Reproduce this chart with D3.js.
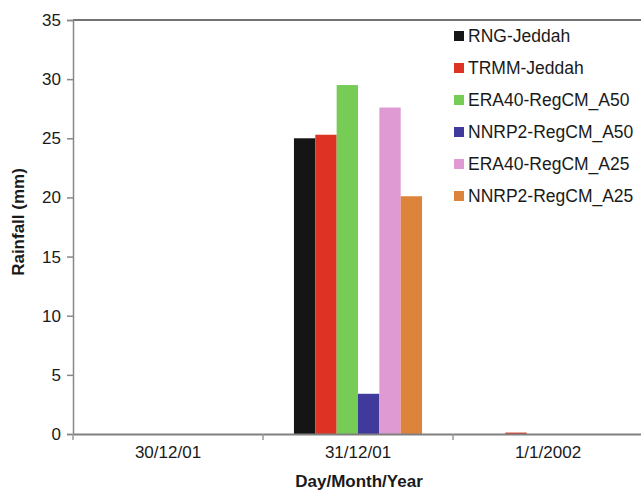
<!DOCTYPE html>
<html><head><meta charset="utf-8">
<script src="https://cdn.jsdelivr.net/npm/d3@7"></script>
<style>body{margin:0;background:#fff;} text{font-family:"Liberation Sans",Arial,sans-serif;fill:#1a1a1a;}</style>
</head><body>
<svg id="c" width="641" height="490"></svg>
<script>
const categories = ["30/12/01", "31/12/01", "1/1/2002"];
const seriesNames = ["RNG-Jeddah", "TRMM-Jeddah", "ERA40-RegCM_A50", "NNRP2-RegCM_A50", "ERA40-RegCM_A25", "NNRP2-RegCM_A25"];
const seriesColors = ["#151515", "#dd3224", "#77cc55", "#3f3a9c", "#df9ad4", "#dc843c"];
const rng     = [0, 25.0, 0];
const trmm    = [0, 25.3, 0.12];
const eraA50  = [0, 29.5, 0];
const nnrpA50 = [0, 3.4, 0];
const eraA25  = [0, 27.6, 0];
const nnrpA25 = [0, 20.1, 0];
const yTicks = [0, 5, 10, 15, 20, 25, 30, 35];
const seriesValues = [rng, trmm, eraA50, nnrpA50, eraA25, nnrpA25];

const svg = d3.select("#c");
const m = {left: 73, right: 643, top: 20, bottom: 434};

const x = d3.scaleBand().domain(categories).range([m.left, m.right]).paddingInner(0).paddingOuter(0);
const inner = d3.scaleBand().domain(seriesNames).range([0, x.bandwidth()]).paddingInner(0).paddingOuter(1.45);
const y = d3.scaleLinear().domain([0, 35]).range([m.bottom, m.top]);

// bars
categories.forEach((c, ci) => {
  seriesNames.forEach((s, si) => {
    const v = seriesValues[si][ci];
    if (v <= 0) return;
    svg.append("rect")
      .attr("x", x(c) + inner(s))
      .attr("width", inner.bandwidth())
      .attr("y", y(v))
      .attr("height", y(0) - y(v))
      .attr("fill", seriesColors[si]);
  });
});

// top border
svg.append("line").attr("x1", m.left).attr("x2", 641).attr("y1", m.top).attr("y2", m.top)
  .attr("stroke", "#444").attr("stroke-width", 1.5);

// y axis
const yAxis = svg.append("g").attr("transform", `translate(${m.left},0)`)
  .call(d3.axisLeft(y).tickValues(yTicks).tickSize(6).tickPadding(6));
yAxis.select(".domain").attr("stroke", "#888").attr("stroke-width", 1.5);
yAxis.selectAll(".tick line").attr("stroke", "#888").attr("stroke-width", 1.5);
yAxis.selectAll(".tick text").style("font-size", "17px").style("font-family", "Liberation Sans, Arial, sans-serif").attr("fill", "#1a1a1a");

// x axis
const xAxis = svg.append("g").attr("transform", `translate(0,${m.bottom})`)
  .call(d3.axisBottom(x).tickSize(0).tickPadding(12));
xAxis.select(".domain").attr("stroke", "#808080").attr("stroke-width", 2);
xAxis.selectAll(".tick text").style("font-size", "17px").style("font-family", "Liberation Sans, Arial, sans-serif").attr("fill", "#1a1a1a");
// category separator ticks
const xg = svg.append("g");
categories.forEach(c => {
  xg.append("line").attr("x1", x(c)).attr("x2", x(c)).attr("y1", m.bottom).attr("y2", m.bottom + 6)
    .attr("stroke", "#999").attr("stroke-width", 1.5);
});

// axis titles
svg.append("text").attr("x", 359).attr("y", 487).attr("text-anchor", "middle")
  .style("font-size", "17px").style("font-weight", "bold").text("Day/Month/Year");
svg.append("text").attr("transform", `translate(24,222) rotate(-90)`).attr("text-anchor", "middle")
  .style("font-size", "17px").style("font-weight", "bold").text("Rainfall (mm)");

// legend
const lg = svg.append("g").attr("transform", "translate(454,36)");
seriesNames.forEach((s, i) => {
  const g = lg.append("g").attr("transform", `translate(0,${i * 32})`);
  g.append("rect").attr("x", 0).attr("y", -5).attr("width", 10).attr("height", 10).attr("fill", seriesColors[i]);
  g.append("text").attr("x", 14).attr("y", 6).style("font-size", "17.5px").text(s);
});
</script>
</body></html>
